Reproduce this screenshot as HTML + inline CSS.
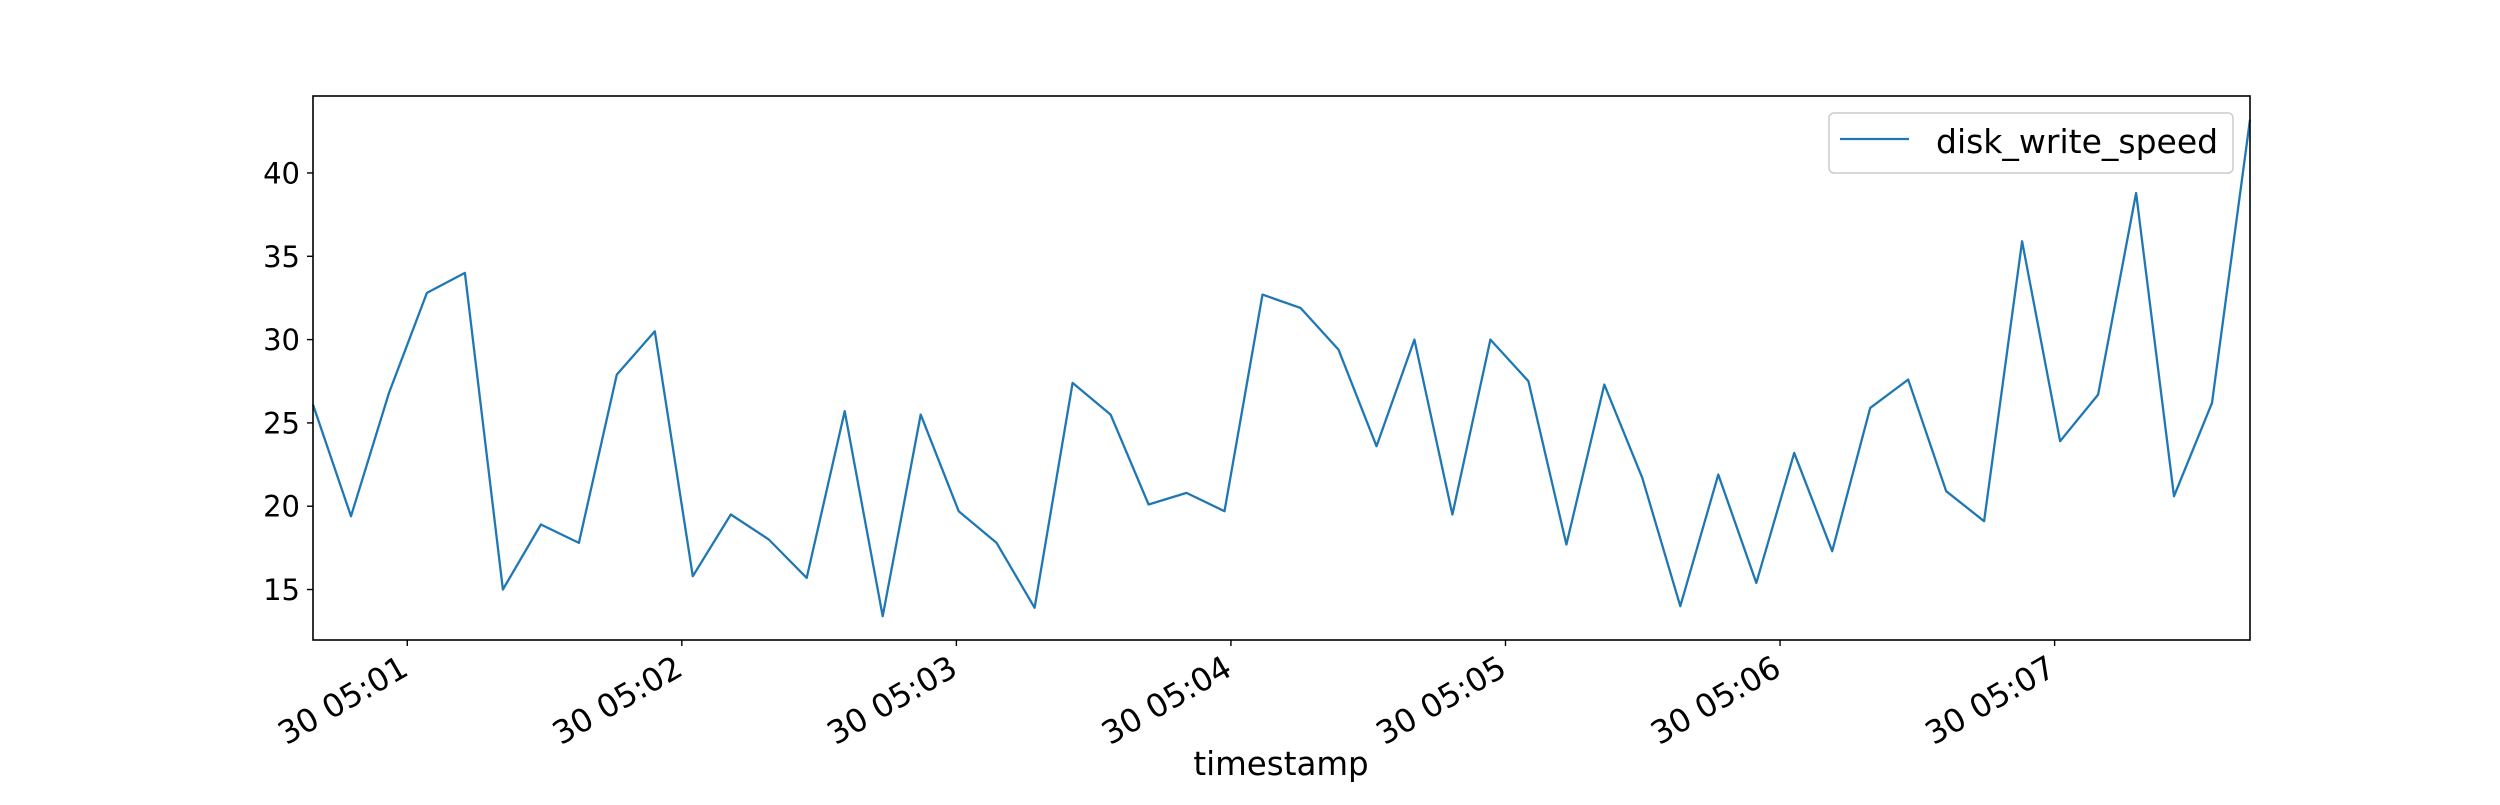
<!DOCTYPE html>
<html><head><meta charset="utf-8"><style>
body{margin:0;background:#fff}
svg text{font-family:"DejaVu Sans","Liberation Sans",sans-serif;fill:#000}
</style></head><body>
<svg id="chart" width="2500" height="800" viewBox="0 0 2500 800" xmlns="http://www.w3.org/2000/svg">
<rect width="2500" height="800" fill="#fff"/>
<g id="plot"></g>
</svg>
<script>
const startSec = 39.4;      // seconds after 05:00 of first sample
const stepSec = 8.3;        // sample interval
const values = [26.1,19.4,26.8,32.8,34.0,15.0,18.9,17.8,27.9,30.5,15.8,19.5,18.0,15.7,25.7,13.4,25.5,19.7,17.8,13.9,27.4,25.5,20.1,20.8,19.7,32.7,31.9,29.4,23.6,30.0,19.5,30.0,27.5,17.7,27.3,21.7,14.0,21.9,15.4,23.2,17.3,25.9,27.6,20.9,19.1,35.9,23.9,26.7,38.8,20.6,26.2,43.2];
const yTicks = [15,20,25,30,35,40];
const xTickMinutes = [1,2,3,4,5,6,7];
const xTickLabels = ["30 05:01","30 05:02","30 05:03","30 05:04","30 05:05","30 05:06","30 05:07"];

const L=313,R=2250,T=96,B=640;
const yMin=11.97,yMax=44.62;
const tMin=startSec, tMax=startSec+stepSec*(values.length-1);
const xs=t=>L+(t-tMin)/(tMax-tMin)*(R-L);
const ys=v=>B-(v-yMin)/(yMax-yMin)*(B-T);
const NS="http://www.w3.org/2000/svg";
const g=document.getElementById('plot');
function mk(tag,attrs,parent){const e=document.createElementNS(NS,tag);for(const k in attrs)e.setAttribute(k,attrs[k]);(parent||g).appendChild(e);return e;}

const pts=values.map((v,i)=>xs(startSec+i*stepSec).toFixed(1)+','+ys(v).toFixed(1)).join(' ');
const line=mk('polyline',{points:pts,fill:'none',stroke:'#1f77b4','stroke-width':2.3,'stroke-linejoin':'round'});



const frame=mk('rect',{x:L,y:T,width:R-L,height:B-T,fill:'none',stroke:'#000','stroke-width':1.6});



yTicks.forEach(v=>{
  const y=ys(v);
  const tk=mk('line',{x1:L-6,x2:L,y1:y,y2:y,stroke:'#000','stroke-width':1.4});
  
  
  const tx=mk('text',{x:L-13,y:y+10.5,'text-anchor':'end','font-size':29});
  tx.textContent=v;
  
  
});

xTickMinutes.forEach((m,i)=>{
  const x=xs(m*60);
  const tk=mk('line',{x1:x,x2:x,y1:B,y2:B+6,stroke:'#000','stroke-width':1.4});
  
  
  const ax=x+3, ay=B+34;
  const tx=mk('text',{x:ax,y:ay,'text-anchor':'end','font-size':32,transform:`rotate(-30 ${ax} ${ay})`});
  tx.textContent=xTickLabels[i];
  
  
});

const xl=mk('text',{x:1281,y:775,'text-anchor':'middle','font-size':32.5});
xl.textContent='timestamp';



const lg=mk('g',{});


mk('rect',{x:1829,y:113,width:404,height:60,rx:5,fill:'#fff','fill-opacity':0.8,stroke:'#ccc','stroke-width':1.5},lg);
const ll=mk('line',{x1:1840,x2:1909,y1:139,y2:139,stroke:'#1f77b4','stroke-width':2.3},lg);


const lt=mk('text',{x:1936,y:153,'font-size':33},lg);
lt.textContent='disk_write_speed';


</script>
</body></html>
